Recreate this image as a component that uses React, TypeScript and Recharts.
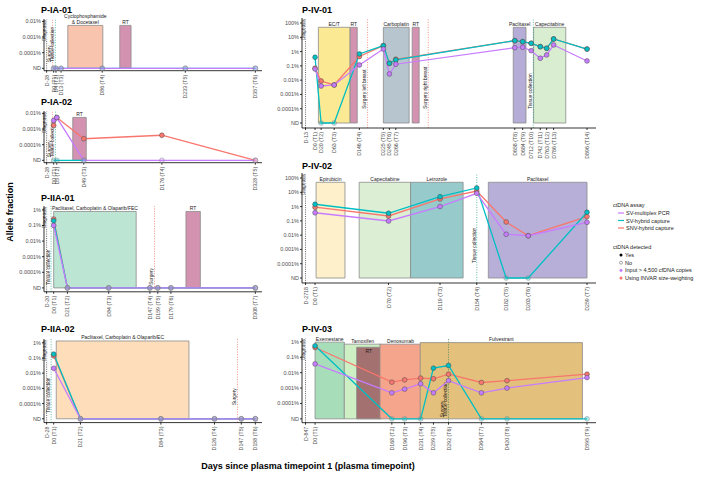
import React from 'react';
import { ComposedChart, Line, XAxis, YAxis, ReferenceArea, ReferenceLine } from 'recharts';

const FONT = '"Liberation Sans", Arial, Helvetica, sans-serif';
const SV = '#C77CFF';
const HYB = '#00BFC4';
const SNV = '#F8766D';
const SURG = '#F06A4F';
const TISS = '#24A878';
const ND = -5;

// allele fraction in %, 0 = not detected, null = not run
// P-IA-01
const ia01Days = [0, 4, 13, 86, 233, 357];
const ia01Labels = ['D0 (T1)', 'D4 (T2)', 'D13 (T3)', 'D86 (T4)', 'D233 (T5)', 'D357 (T6)'];
const ia01Sv = [0, 0, 0, 0, 0, 0];
const ia01Hyb = [0, 0, 0, 0, 0, 0];
const ia01Snv = [null, null, null, null, null, null];

// P-IA-02
const ia02Days = [0, 5, 49, 176, 328];
const ia02Labels = ['D0 (T1)', 'D5 (T2)', 'D49 (T3)', 'D176 (T4)', 'D328 (T5)'];
const ia02Sv = [0.0035, 0.0054, 0, 0, 0];
const ia02Hyb = [0, 0, 0, null, null];
const ia02Snv = [0.0017, 0.0054, 0.00024, 0.0004, 0];

// P-IIA-01
const iia01Days = [0, 21, 84, 147, 159, 179, 308];
const iia01Labels = ['D0 (T1)', 'D21 (T2)', 'D84 (T3)', 'D147 (T4)', 'D159 (T5)', 'D179 (T6)', 'D308 (T7)'];
const iia01Sv = [0.1, 0, 0, 0, 0, 0, 0];
const iia01Hyb = [0.2, 0, 0, 0, 0, 0, 0];
const iia01Snv = [0.26, 0, 0, 0, 0, 0, 0];

// P-IIA-02
const iia02Days = [0, 21, 84, 126, 147, 158];
const iia02Labels = ['D0 (T1)', 'D21 (T2)', 'D84 (T3)', 'D126 (T4)', 'D147 (T5)', 'D158 (T6)'];
const iia02Sv = [0.021, 0, 0, 0, 0, 0];
const iia02Hyb = [0.18, 0, 0, 0, 0, 0];
const iia02Snv = [0.14, 0, 0, 0, 0, 0];

// P-IV-01
const iv01Days = [0, 20, 63, 146, 225, 245, 266, 658, 684, 712, 742, 763, 786, 896];
const iv01Labels = ['D0 (T1)', 'D20 (T2)', 'D63 (T3)', 'D146 (T4)', 'D225 (T5)', 'D245 (T6)', 'D266 (T7)',
  'D658 (T8)', 'D684 (T9)', 'D712 (T10)', 'D742 (T11)', 'D763 (T12)', 'D786 (T13)', 'D896 (T14)'];
const iv01Sv = [0.06, 0.0039, 0.0046, 0.115, 1.5, 0.027, 0.13, 1.86, 2.0, 1.15, 0.34, 0.58, 2.9, 0.22];
const iv01Hyb = [0.4, 0, 0, 0.68, 2.6, 0.15, 0.26, 5.8, 4.9, 3.8, 2.2, 1.7, 7.6, 1.5];
const iv01Snv = [0.068, 0.0087, 0.0046, 0.45, 2.6, 0.15, 0.29, 5.8, 4.9, 3.8, 2.2, 1.7, 7.6, 1.5];

// P-IV-02
const iv02Days = [0, 70, 119, 154, 182, 203, 259];
const iv02Labels = ['D0 (T1)', 'D70 (T2)', 'D119 (T3)', 'D154 (T4)', 'D182 (T5)', 'D203 (T6)', 'D259 (T7)'];
const iv02Sv = [0.37, 0.098, 1.0, 8.5, 0.0115, 0.0091, 0.079];
const iv02Hyb = [1.45, 0.34, 4.9, 20, 0, 0, 0.4];
const iv02Snv = [0.9, 0.22, 3.4, 12.3, 0.083, 0.0091, 0.2];

// P-IV-03
const iv03Days = [0, 168, 196, 231, 259, 292, 364, 420, 595];
const iv03Labels = ['D0 (T1)', 'D168 (T2)', 'D196 (T3)', 'D231 (T4)', 'D259 (T5)', 'D292 (T6)', 'D364 (T7)', 'D420 (T8)', 'D595 (T9)'];
const iv03Sv = [0.037, 0.00049, 0.00085, 0.0019, 0.00049, 0.003, 0.00049, 0.001, 0.0048];
const iv03Hyb = [0.55, 0, 0, 0, 0.0195, 0.029, 0, 0, 0];
const iv03Snv = [0.43, 0.0024, 0.0034, 0.0044, 0.004, 0.0079, 0.0023, 0.003, 0.0079];

type Treat = { name: string; from: number; to: number; top: number; fill: string; inside?: boolean };
type Ev = { name: string; day: number; color: string; at: number; dx?: number };

const ia01Treats: Treat[] = [
  { name: 'Cyclophosphamide\n& Docetaxel', from: 25, to: 87, top: -2.26, fill: '#F8C4AE' },
  { name: 'RT', from: 117, to: 137, top: -2.26, fill: '#D392B0' },
];
const ia02Treats: Treat[] = [{ name: 'RT', from: 31, to: 53, top: -2.26, fill: '#D392B0' }];
const iia01Treats: Treat[] = [
  { name: 'Paclitaxel, Carboplatin & Olaparib/FEC', from: 0, to: 126, top: -0.1, fill: '#BDE5D4' },
  { name: 'RT', from: 202, to: 224, top: -0.1, fill: '#D392B0' },
];
const iia02Treats: Treat[] = [{ name: 'Paclitaxel, Carboplatin & Olaparib/EC', from: 2, to: 106, top: 0.12, fill: '#FDDDBA' }];
const iv01Treats: Treat[] = [
  { name: 'EC/T', from: 11, to: 115, top: 1.7, fill: '#FCE994' },
  { name: 'RT', from: 116, to: 139, top: 1.7, fill: '#D392B0' },
  { name: 'Carboplatin', from: 225, to: 310, top: 1.7, fill: '#B7C6CE' },
  { name: 'RT', from: 320, to: 343, top: 1.7, fill: '#D392B0' },
  { name: 'Paclitaxel', from: 653, to: 695, top: 1.7, fill: '#B5ACD8' },
  { name: 'Capecitabine', from: 720, to: 826, top: 1.7, fill: '#D9EED1' },
];
const iv02Treats: Treat[] = [
  { name: 'Epirubicin', from: 1, to: 28.5, top: 1.7, fill: '#FDF0CA' },
  { name: 'Capecitabine', from: 42, to: 91, top: 1.7, fill: '#DCEED3' },
  { name: 'Letrozole', from: 91, to: 141, top: 1.7, fill: '#96CACB' },
  { name: 'Paclitaxel', from: 165, to: 259, top: 1.7, fill: '#B8AFD9' },
];
const iv03Treats: Treat[] = [
  { name: 'Exemestane', from: 0, to: 64, top: -0.02, fill: '#A8DDBA' },
  { name: 'Tamoxifen', from: 64, to: 144, top: -0.15, fill: '#CDEFC3' },
  { name: 'RT', from: 91, to: 144, top: -0.35, fill: '#A3716F', inside: true },
  { name: 'Denosumab', from: 142, to: 232, top: -0.15, fill: '#F4A58B' },
  { name: 'Fulvestrant', from: 230, to: 585, top: -0.05, fill: '#E3C07B' },
];

const ia01Events: Ev[] = [
  { name: 'Surgery', day: -2, color: SURG, at: -4.6 },
  { name: 'Tissue collection', day: 3, color: TISS, at: -4.6 },
];
const ia02Events: Ev[] = [
  { name: 'Surgery', day: -2, color: SURG, at: -4.8 },
  { name: 'Tissue collection', day: 3, color: TISS, at: -4.8 },
];
const iia01Events: Ev[] = [
  { name: 'Tissue collection', day: -4, color: TISS, at: -4.8 },
  { name: 'Surgery', day: 154, color: SURG, at: -4.8 },
];
const iia02Events: Ev[] = [
  { name: 'Tissue collection', day: -2, color: TISS, at: -4.6 },
  { name: 'Surgery', day: 144, color: SURG, at: -4.1 },
];
const iv01Events: Ev[] = [
  { name: 'Surgery left breast', day: 173, color: SURG, at: -4.0 },
  { name: 'Surgery right breast', day: 373, color: SURG, at: -4.0 },
  { name: 'Tissue collection', day: 719, color: TISS, at: -4.0 },
];
const iv02Events: Ev[] = [{ name: 'Tissue collection', day: 154, color: TISS, at: -3.95 }];
const iv03Events: Ev[] = [
  { name: 'Surgery', day: 292, color: SURG, at: -4.9, dx: -4.5 },
  { name: 'Tissue collection', day: 292, color: TISS, at: -4.9 },
];

type PanelDef = {
  title: string; titleX: number; titleY: number;
  left: number; axisX: number; right: number; plotTop: number; plotBottom: number; topTick: number;
  diag: string; days: number[]; labels: string[];
  sv: (number | null)[]; hyb: (number | null)[]; snv: (number | null)[];
  treats: Treat[]; events: Ev[];
};

const L = { left: 0, axisX: 44, right: 262 };
const R = { left: 256, axisX: 302, right: 596 };

const panels: PanelDef[] = [
  { title: 'P-IA-01', titleX: 41, titleY: 10, ...L, plotTop: 18.65, plotBottom: 70.35, topTick: -2, diag: 'D-28',
    days: ia01Days, labels: ia01Labels, sv: ia01Sv, hyb: ia01Hyb, snv: ia01Snv, treats: ia01Treats, events: ia01Events },
  { title: 'P-IA-02', titleX: 41, titleY: 102, ...L, plotTop: 110.65, plotBottom: 162.35, topTick: -2, diag: 'D-28',
    days: ia02Days, labels: ia02Labels, sv: ia02Sv, hyb: ia02Hyb, snv: ia02Snv, treats: ia02Treats, events: ia02Events },
  { title: 'P-IIA-01', titleX: 41, titleY: 198, ...L, plotTop: 206.1, plotBottom: 291.9, topTick: 0, diag: 'D-20',
    days: iia01Days, labels: iia01Labels, sv: iia01Sv, hyb: iia01Hyb, snv: iia01Snv, treats: iia01Treats, events: iia01Events },
  { title: 'P-IIA-02', titleX: 41, titleY: 329, ...L, plotTop: 339.2, plotBottom: 422.8, topTick: 0, diag: 'D-28',
    days: iia02Days, labels: iia02Labels, sv: iia02Sv, hyb: iia02Hyb, snv: iia02Snv, treats: iia02Treats, events: iia02Events },
  { title: 'P-IV-01', titleX: 302, titleY: 10, ...R, plotTop: 18, plotBottom: 128, topTick: 2, diag: 'D-13',
    days: iv01Days, labels: iv01Labels, sv: iv01Sv, hyb: iv01Hyb, snv: iv01Snv, treats: iv01Treats, events: iv01Events },
  { title: 'P-IV-02', titleX: 302, titleY: 166, ...R, plotTop: 173, plotBottom: 283, topTick: 2, diag: 'D-2718',
    days: iv02Days, labels: iv02Labels, sv: iv02Sv, hyb: iv02Hyb, snv: iv02Snv, treats: iv02Treats, events: iv02Events },
  { title: 'P-IV-03', titleX: 302, titleY: 329, ...R, plotTop: 338.15, plotBottom: 422.85, topTick: 0, diag: 'D-847',
    days: iv03Days, labels: iv03Labels, sv: iv03Sv, hyb: iv03Hyb, snv: iv03Snv, treats: iv03Treats, events: iv03Events },
];

const toLog = (v: number | null) => (v === null ? null : v === 0 ? ND : Math.log10(v));
const yTickText = (t: number) => {
  if (t <= ND) return 'ND';
  const map: { [k: string]: string } = { '2': '100%', '1': '10%', '0': '1%', '-1': '0.1%', '-2': '0.01%', '-3': '0.001%', '-4': '0.0001%' };
  return map[String(t)];
};

const makeDot = (color: string, key: string) => (props: any) => {
  const { cx, cy, payload, index } = props;
  const v = payload ? payload[key] : null;
  if (cx == null || cy == null || v == null) return <g key={`${key}-${index}`} />;
  const nd = v === ND;
  return (
    <circle key={`${key}-${index}`} cx={cx} cy={cy} r={2.4}
      fill={color} fillOpacity={nd ? 0.3 : 1} stroke={nd ? '#8a8a8a' : '#4a4a4a'} strokeWidth={0.5} />
  );
};

function Panel({ p }: { p: PanelDef }) {
  const max = p.days[p.days.length - 1];
  const lo = -0.048 * max;
  const hi = 1.033 * max;
  const diagX = -0.035 * max;
  const range = p.topTick - ND;
  const yLo = ND - range * 0.05;
  const yHi = p.topTick + range * 0.05;
  const MT = 26, XH = 36, MR = 8;
  const plotH = p.plotBottom - p.plotTop;
  const width = p.right + MR - p.left;
  const height = MT + plotH + XH;
  const pix = (lv: number) => MT + ((yHi - lv) / (yHi - yLo)) * plotH;

  const rows = p.days.map((d, i) => ({ day: d, snv: toLog(p.snv[i]), hyb: toLog(p.hyb[i]), sv: toLog(p.sv[i]) }));
  const yTicks: number[] = [];
  for (let t = p.topTick; t >= ND; t--) yTicks.push(t);
  const xTicks = [diagX, ...p.days];
  const xText = (v: number) => (Math.abs(v - diagX) < 1e-6 ? p.diag : p.labels[p.days.indexOf(v)] ?? '');

  const xTick = (tp: any) => {
    const x = tp.x;
    const y = tp.y + 1;
    return (
      <text x={x} y={y} transform={`rotate(-90 ${x} ${y})`} textAnchor="end" dominantBaseline="central"
        fontSize={5.3} fill="#4d4d4d" fontFamily={FONT}>{xText(tp.payload.value)}</text>
    );
  };

  const trLabel = (t: Treat) => (lp: any) => {
    const vb = lp.viewBox;
    if (!vb) return null;
    const lines = t.name.split('\n');
    const cx = vb.x + vb.width / 2;
    const y0 = t.inside ? vb.y + 5.5 : vb.y - 1.6 - (lines.length - 1) * 5.6;
    return (
      <text x={cx} y={y0} textAnchor="middle" fontSize={5} fill="#1a1a1a" fontFamily={FONT}>
        {lines.map((s, i) => <tspan key={i} x={cx} dy={i ? 5.6 : 0}>{s}</tspan>)}
      </text>
    );
  };

  const evLabel = (ev: Ev) => (lp: any) => {
    const vb = lp.viewBox;
    if (!vb) return null;
    const x = vb.x + (ev.dx ?? -1.2);
    const y = pix(ev.at);
    return (
      <text x={x} y={y} transform={`rotate(-90 ${x} ${y})`} textAnchor="start" fontSize={4.8} fill="#1a1a1a" fontFamily={FONT}>
        {ev.name}
      </text>
    );
  };

  const diagLabel = (lp: any) => {
    const vb = lp.viewBox;
    if (!vb) return null;
    const x = vb.x - 0.8;
    const y = vb.y + 1;
    return (
      <g>
        <rect x={x - 5.2} y={vb.y} width={6} height={22} fill="#fff" />
        <text x={x} y={y} transform={`rotate(-90 ${x} ${y})`} textAnchor="end" fontSize={4.8} fill="#1a1a1a" fontFamily={FONT}>
          Diagnosis
        </text>
      </g>
    );
  };

  return (
    <div style={{ position: 'absolute', left: p.left, top: p.plotTop - MT }}>
      <ComposedChart width={width} height={height} data={rows} margin={{ top: MT, right: MR, left: 0, bottom: 0 }}>
        <XAxis type="number" dataKey="day" domain={[lo, hi]} ticks={xTicks} interval={0} allowDataOverflow
          height={XH} tick={xTick} tickSize={2} tickMargin={1} stroke="#000" strokeWidth={0.8} />
        <YAxis type="number" domain={[yLo, yHi]} ticks={yTicks} interval={0} allowDataOverflow width={p.axisX - p.left}
          tickFormatter={yTickText} tickSize={2} tickMargin={1} stroke="#000" strokeWidth={0.8}
          tick={{ fontSize: 5.5, fill: '#4d4d4d', fontFamily: FONT }} />
        {p.treats.map((t, i) => (
          <ReferenceArea key={`t${i}`} x1={t.from} x2={t.to} y1={ND} y2={t.top} fill={t.fill} fillOpacity={1}
            stroke="#8c8c8c" strokeWidth={0.8} ifOverflow="visible" label={trLabel(t)} />
        ))}
        <ReferenceLine x={diagX} stroke="#222" strokeWidth={0.7} strokeDasharray="1 1.2" label={diagLabel} />
        {p.events.map((ev, i) => (
          <ReferenceLine key={`e${i}`} x={ev.day} stroke={ev.color} strokeWidth={0.7} strokeDasharray="1 1.5"
            label={evLabel(ev)} />
        ))}
        <Line type="linear" dataKey="snv" stroke={SNV} strokeWidth={1.3} dot={makeDot(SNV, 'snv')} isAnimationActive={false} />
        <Line type="linear" dataKey="hyb" stroke={HYB} strokeWidth={1.3} dot={makeDot(HYB, 'hyb')} isAnimationActive={false} />
        <Line type="linear" dataKey="sv" stroke={SV} strokeWidth={1.3} dot={makeDot(SV, 'sv')} isAnimationActive={false} />
      </ComposedChart>
    </div>
  );
}

const legendAssay = [
  { name: 'SV-multiplex PCR', color: SV },
  { name: 'SV-hybrid capture', color: HYB },
  { name: 'SNV-hybrid capture', color: SNV },
];
const legendDetected = ['Yes', 'No', 'Input > 4,500 cfDNA copies', 'Using INVAR size-weighting'];

export default function App() {
  return (
    <div style={{ position: 'absolute', left: 0, top: 0, width: 709, height: 483, background: '#fff', fontFamily: FONT, overflow: 'hidden' }}>
      {panels.map((p) => <Panel key={p.title} p={p} />)}
      <svg width={709} height={483} style={{ position: 'absolute', left: 0, top: 0, pointerEvents: 'none' }}>
        {panels.map((p) => (
          <text key={p.title} x={p.titleX} y={p.titleY + 3.3} fontSize={9} fontWeight="bold" fill="#000" fontFamily={FONT}>{p.title}</text>
        ))}
        <text x={13} y={212} transform="rotate(-90 13 212)" textAnchor="middle" fontSize={9} fontWeight="bold" fontFamily={FONT}>Allele fraction</text>
        <text x={308} y={469} textAnchor="middle" fontSize={9} fontWeight="bold" fontFamily={FONT}>Days since plasma timepoint 1 (plasma timepoint)</text>
        <text x={613} y={207} fontSize={5.5} fill="#1a1a1a" fontFamily={FONT}>ctDNA assay</text>
        {legendAssay.map((a, i) => (
          <g key={a.name}>
            <line x1={618} x2={624} y1={213 + i * 7.5} y2={213 + i * 7.5} stroke={a.color} strokeWidth={1.2} />
            <text x={626} y={215 + i * 7.5} fontSize={5.5} fill="#1a1a1a" fontFamily={FONT}>{a.name}</text>
          </g>
        ))}
        <text x={613} y={249} fontSize={5.5} fill="#1a1a1a" fontFamily={FONT}>ctDNA detected</text>
        {legendDetected.map((d, i) => {
          const y = 255 + i * 7.7;
          const sym = i === 0 ? <circle cx={621} cy={y} r={1.5} fill="#000" />
            : i === 1 ? <circle cx={621} cy={y} r={1.5} fill="#fff" stroke="#555" strokeWidth={0.5} />
            : <path d={`M621 ${y - 1.9} L622.9 ${y} L621 ${y + 1.9} L619.1 ${y} Z`} fill={i === 2 ? SV : SNV} />;
          return (
            <g key={d}>
              {sym}
              <text x={625} y={y + 2} fontSize={5.5} fill="#1a1a1a" fontFamily={FONT}>{d}</text>
            </g>
          );
        })}
      </svg>
    </div>
  );
}
